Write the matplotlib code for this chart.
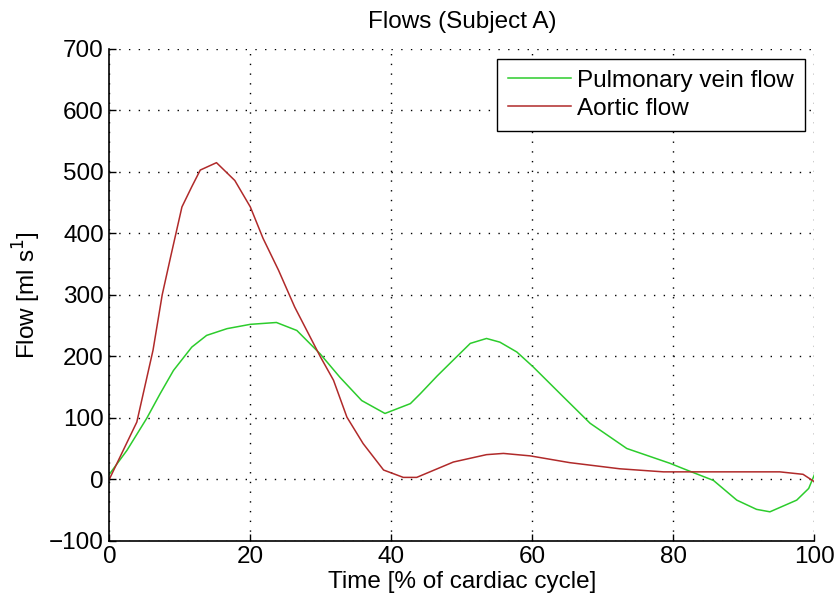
import matplotlib.pyplot as plt

# ================================
# Data
# ================================
aortic_t = [0, 3.9, 6.2, 7.5, 8.7, 10.3, 11.7, 12.9, 15.2, 17.8, 20, 21.8, 24, 26.3,
            29.9, 31.8, 33.7, 36, 38.9, 41.7, 43.6, 48.8, 53.5, 55.9, 59.7, 65.3,
            72.4, 78.6, 95.1, 98.4, 100]
aortic_flow = [0, 93, 210, 300, 362, 443, 476, 503, 515, 486, 443, 392, 340, 280,
               200, 161, 101, 58, 15, 3, 3, 28, 40, 42, 38, 27,
               17, 12, 12, 8, -4]

pulm_t = [0, 2.5, 5.3, 7.2, 9.1, 11.7, 13.8, 16.7, 20, 23.7, 26.6, 29.9, 32.7, 35.8,
          39.1, 42.7, 44.1, 46.5, 48.8, 51.2, 53.5, 55.4, 57.8, 60.1, 64.4, 68.2,
          73.4, 79.5, 81.9, 85.7, 89, 91.8, 93.7, 97.5, 99.2, 100]
pulm_flow = [8, 47, 99, 139, 177, 215, 234, 245, 252, 255, 242, 204, 166, 128,
             107, 123, 139, 168, 194, 221, 229, 223, 207, 183, 134, 91,
             50, 26, 15, -2, -34, -49, -53, -34, -15, 7]

x_ticks = [0, 20, 40, 60, 80, 100]
y_ticks = [-100, 0, 100, 200, 300, 400, 500, 600, 700]

# ================================
# Plot
# ================================
plt.rcParams['font.family'] = ['Liberation Sans', 'DejaVu Sans']
fs = 17.5

fig = plt.figure(figsize=(8.39, 6.12), dpi=100)
ax = fig.add_axes([0.1303, 0.1165, 0.8403, 0.8035])

ax.plot(pulm_t, pulm_flow, color='#2ccc2c', linewidth=1.1, label='Pulmonary vein flow')
ax.plot(aortic_t, aortic_flow, color='#b02a2a', linewidth=1.1, label='Aortic flow')

ax.set_xlim(0, 100)
ax.set_ylim(-100, 700)
ax.set_xticks(x_ticks)
ax.set_yticks(y_ticks)
ax.grid(True, color='black', linestyle=(0, (1, 6)), linewidth=1.0)
ax.tick_params(labelsize=fs, direction='in', length=5, width=1, pad=4)

for side in ['top', 'right']:
    ax.spines[side].set_visible(False)
for side in ['left', 'bottom']:
    ax.spines[side].set_linewidth(1.2)

ax.set_title('Flows (Subject A)', fontsize=fs, pad=15)
ax.set_xlabel('Time [% of cardiac cycle]', fontsize=fs, labelpad=2)
ax.set_ylabel('Flow [ml s$^{1}$]', fontsize=fs, labelpad=4)

leg = ax.legend(loc='upper right', bbox_to_anchor=(0.987, 0.98), borderaxespad=0,
                fontsize=fs, fancybox=False, framealpha=1, edgecolor='black',
                handlelength=2.6, handletextpad=0.25, borderpad=0.45, labelspacing=0.25)
leg.get_frame().set_linewidth(1.0)

plt.savefig('out.png', dpi=100)
plt.close()
